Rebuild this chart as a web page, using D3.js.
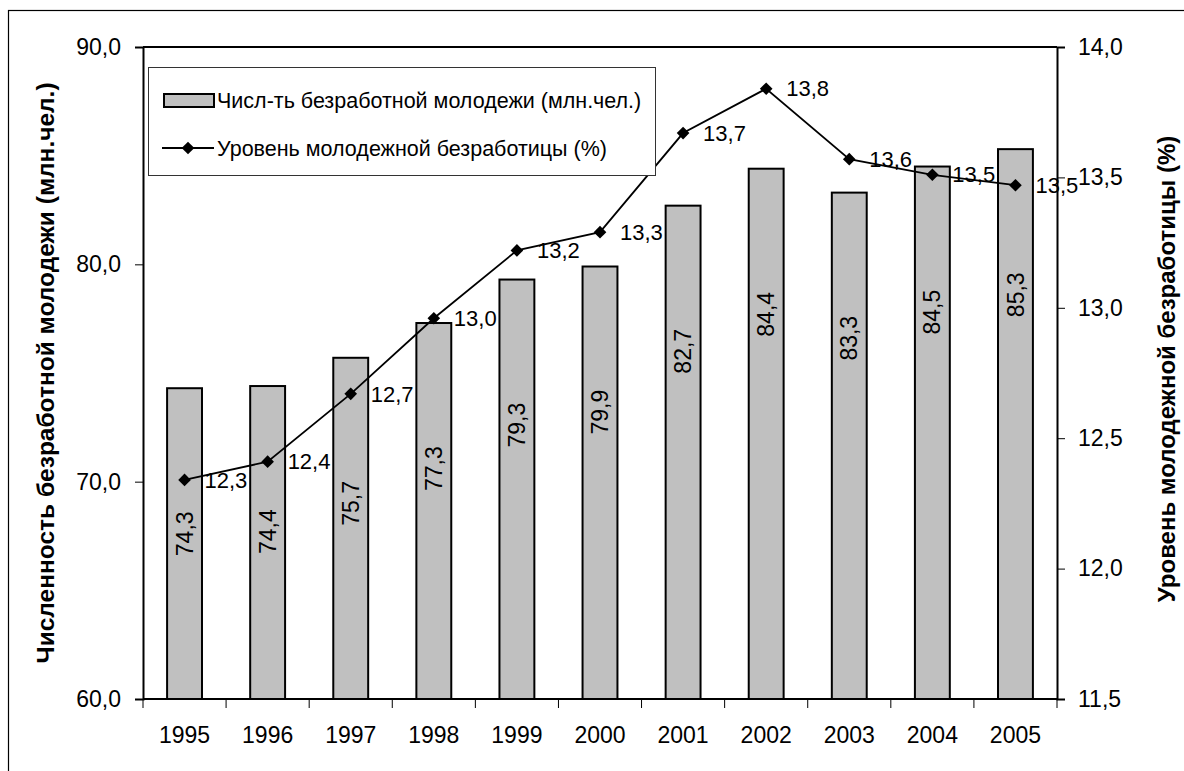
<!DOCTYPE html>
<html>
<head>
<meta charset="utf-8">
<script src="https://cdn.jsdelivr.net/npm/d3@7"></script>
<style>
  body { margin: 0; background: #fff; }
  text { font-family: "Liberation Sans", Arial, sans-serif; fill: #000; }
</style>
</head>
<body>
<script>
// chart data
var years = ['1995', '1996', '1997', '1998', '1999', '2000', '2001', '2002', '2003', '2004', '2005'];
var youthUnemployed = [74.3, 74.4, 75.7, 77.3, 79.3, 79.9, 82.7, 84.4, 83.3, 84.5, 85.3];
var youthRate = [12.34, 12.41, 12.67, 12.96, 13.22, 13.29, 13.67, 13.84, 13.57, 13.51, 13.47];
var leftTicks = [60, 70, 80, 90];
var rightTicks = [11.5, 12.0, 12.5, 13.0, 13.5, 14.0];
var barName = 'Числ-ть безработной молодежи (млн.чел.)';
var lineName = 'Уровень молодежной безработицы (%)';
var leftTitle = 'Численность безработной молодежи (млн.чел.)';
var rightTitle = 'Уровень молодежной безработицы (%)';

var width = 1184, height = 771,
	margin = {top: 47, right: 127, bottom: 72, left: 143},
	barColor = '#c0c0c0',
	fontSize = 23,
	fmt = function(v) { return d3.format('.1f')(v).replace('.', ','); };

var svg = d3.select('body').append('svg')
	.attr('width', width)
	.attr('height', height);

// outer chart frame
svg.append('rect')
	.attr('x', 8.5)
	.attr('y', 10.5)
	.attr('width', 1180)
	.attr('height', 765)
	.attr('fill', 'none')
	.attr('stroke', '#000')
	.attr('stroke-width', 1.2);

var x = d3.scaleBand()
	.domain(years)
	.range([margin.left, width - margin.right])
	.paddingInner(0.58)
	.paddingOuter(0.29);

var yLeft = d3.scaleLinear()
	.domain([60, 90])
	.range([height - margin.bottom, margin.top]);

var yRight = d3.scaleLinear()
	.domain([11.5, 14.0])
	.range([height - margin.bottom, margin.top]);

var plotRight = width - margin.right,
	plotBottom = height - margin.bottom,
	plotMid = (margin.top + plotBottom) / 2,
	step = (plotRight - margin.left) / years.length;

// bars
svg.append('g').selectAll('rect')
	.data(youthUnemployed)
	.enter().append('rect')
	.attr('x', function(d, i) { return x(years[i]); })
	.attr('y', function(d) { return yLeft(d); })
	.attr('width', x.bandwidth())
	.attr('height', function(d) { return plotBottom - yLeft(d); })
	.attr('fill', barColor)
	.attr('stroke', '#000')
	.attr('stroke-width', 2);

// bar value labels, rotated, a bit below bar tops
svg.append('g').selectAll('text')
	.data(youthUnemployed)
	.enter().append('text')
	.attr('transform', function(d, i) {
		var cx = x(years[i]) + x.bandwidth() / 2,
			cy = yLeft(d - 6.7);
		return 'translate(' + cx + ',' + cy + ') rotate(-90)';
	})
	.attr('text-anchor', 'middle')
	.attr('dy', '0.35em')
	.attr('font-size', fontSize)
	.text(fmt);

// plot frame top line
svg.append('line')
	.attr('x1', margin.left).attr('x2', plotRight)
	.attr('y1', margin.top).attr('y2', margin.top)
	.attr('stroke', '#000').attr('stroke-width', 2);

// left axis
var leftAxis = svg.append('g')
	.attr('transform', 'translate(' + margin.left + ',0)')
	.call(d3.axisLeft(yLeft).tickValues(leftTicks).tickSize(8).tickPadding(14).tickFormat(fmt));

// right axis
var rightAxis = svg.append('g')
	.attr('transform', 'translate(' + plotRight + ',0)')
	.call(d3.axisRight(yRight).tickValues(rightTicks).tickSize(8).tickPadding(13).tickFormat(fmt));

// bottom axis: ticks sit on category boundaries
var boundaries = d3.range(years.length + 1).map(function(i) { return margin.left + i * step; });
var bottom = svg.append('g');
bottom.append('line')
	.attr('x1', margin.left).attr('x2', plotRight)
	.attr('y1', plotBottom).attr('y2', plotBottom)
	.attr('stroke', '#000').attr('stroke-width', 2);
bottom.selectAll('line.tick')
	.data(boundaries)
	.enter().append('line')
	.attr('class', 'tick')
	.attr('x1', function(d) { return d; }).attr('x2', function(d) { return d; })
	.attr('y1', plotBottom).attr('y2', plotBottom + 9)
	.attr('stroke', '#000').attr('stroke-width', 1);
bottom.selectAll('text')
	.data(years)
	.enter().append('text')
	.attr('x', function(d) { return x(d) + x.bandwidth() / 2; })
	.attr('y', plotBottom + 36)
	.attr('text-anchor', 'middle')
	.attr('dy', '0.35em')
	.attr('font-size', fontSize)
	.text(function(d) { return d; });

[leftAxis, rightAxis].forEach(function(ax) {
	ax.select('.domain').attr('stroke', '#000').attr('stroke-width', 2);
	ax.selectAll('.tick line').attr('stroke', '#000');
	ax.selectAll('.tick text')
		.attr('font-size', fontSize)
		.attr('font-family', '"Liberation Sans", Arial, sans-serif');
});

// line series
var cx = function(i) { return x(years[i]) + x.bandwidth() / 2; };
var line = d3.line()
	.x(function(d, i) { return cx(i); })
	.y(function(d) { return yRight(d); });

svg.append('path')
	.datum(youthRate)
	.attr('d', line)
	.attr('fill', 'none')
	.attr('stroke', '#000')
	.attr('stroke-width', 1.8);

var diamond = d3.symbol().type(d3.symbolSquare).size(80);

svg.append('g').selectAll('path')
	.data(youthRate)
	.enter().append('path')
	.attr('d', diamond)
	.attr('transform', function(d, i) {
		return 'translate(' + cx(i) + ',' + yRight(d) + ') rotate(45)';
	})
	.attr('fill', '#000');

svg.append('g').selectAll('text')
	.data(youthRate)
	.enter().append('text')
	.attr('x', function(d, i) { return cx(i) + 20; })
	.attr('y', function(d) { return yRight(d); })
	.attr('dy', '0.35em')
	.attr('font-size', 22)
	.text(fmt);

// axis titles, centred on the plot area
svg.append('text')
	.attr('transform', 'translate(45,' + plotMid + ') rotate(-90)')
	.attr('text-anchor', 'middle')
	.attr('dy', '0.35em')
	.attr('font-size', 24.5)
	.attr('font-weight', 'bold')
	.text(leftTitle);

svg.append('text')
	.attr('transform', 'translate(1167,' + (plotMid - 4) + ') rotate(-90)')
	.attr('text-anchor', 'middle')
	.attr('dy', '0.35em')
	.attr('font-size', 24)
	.attr('font-weight', 'bold')
	.text(rightTitle);

// legend
var legend = svg.append('g');
legend.append('rect')
	.attr('x', 148.5).attr('y', 67.5)
	.attr('width', 507).attr('height', 108)
	.attr('fill', '#fff')
	.attr('stroke', '#333')
	.attr('stroke-width', 1);

legend.append('rect')
	.attr('x', 164).attr('y', 94)
	.attr('width', 50).attr('height', 13)
	.attr('fill', barColor)
	.attr('stroke', '#000')
	.attr('stroke-width', 2);
legend.append('text')
	.attr('x', 217).attr('y', 100)
	.attr('dy', '0.35em')
	.attr('font-size', 21.5)
	.text(barName);

legend.append('line')
	.attr('x1', 162).attr('x2', 214)
	.attr('y1', 148).attr('y2', 148)
	.attr('stroke', '#000').attr('stroke-width', 1.8);
legend.append('path')
	.attr('d', diamond)
	.attr('transform', 'translate(188,148) rotate(45)')
	.attr('fill', '#000');
legend.append('text')
	.attr('x', 217).attr('y', 148)
	.attr('dy', '0.35em')
	.attr('font-size', 21.5)
	.text(lineName);
</script>
</body>
</html>
